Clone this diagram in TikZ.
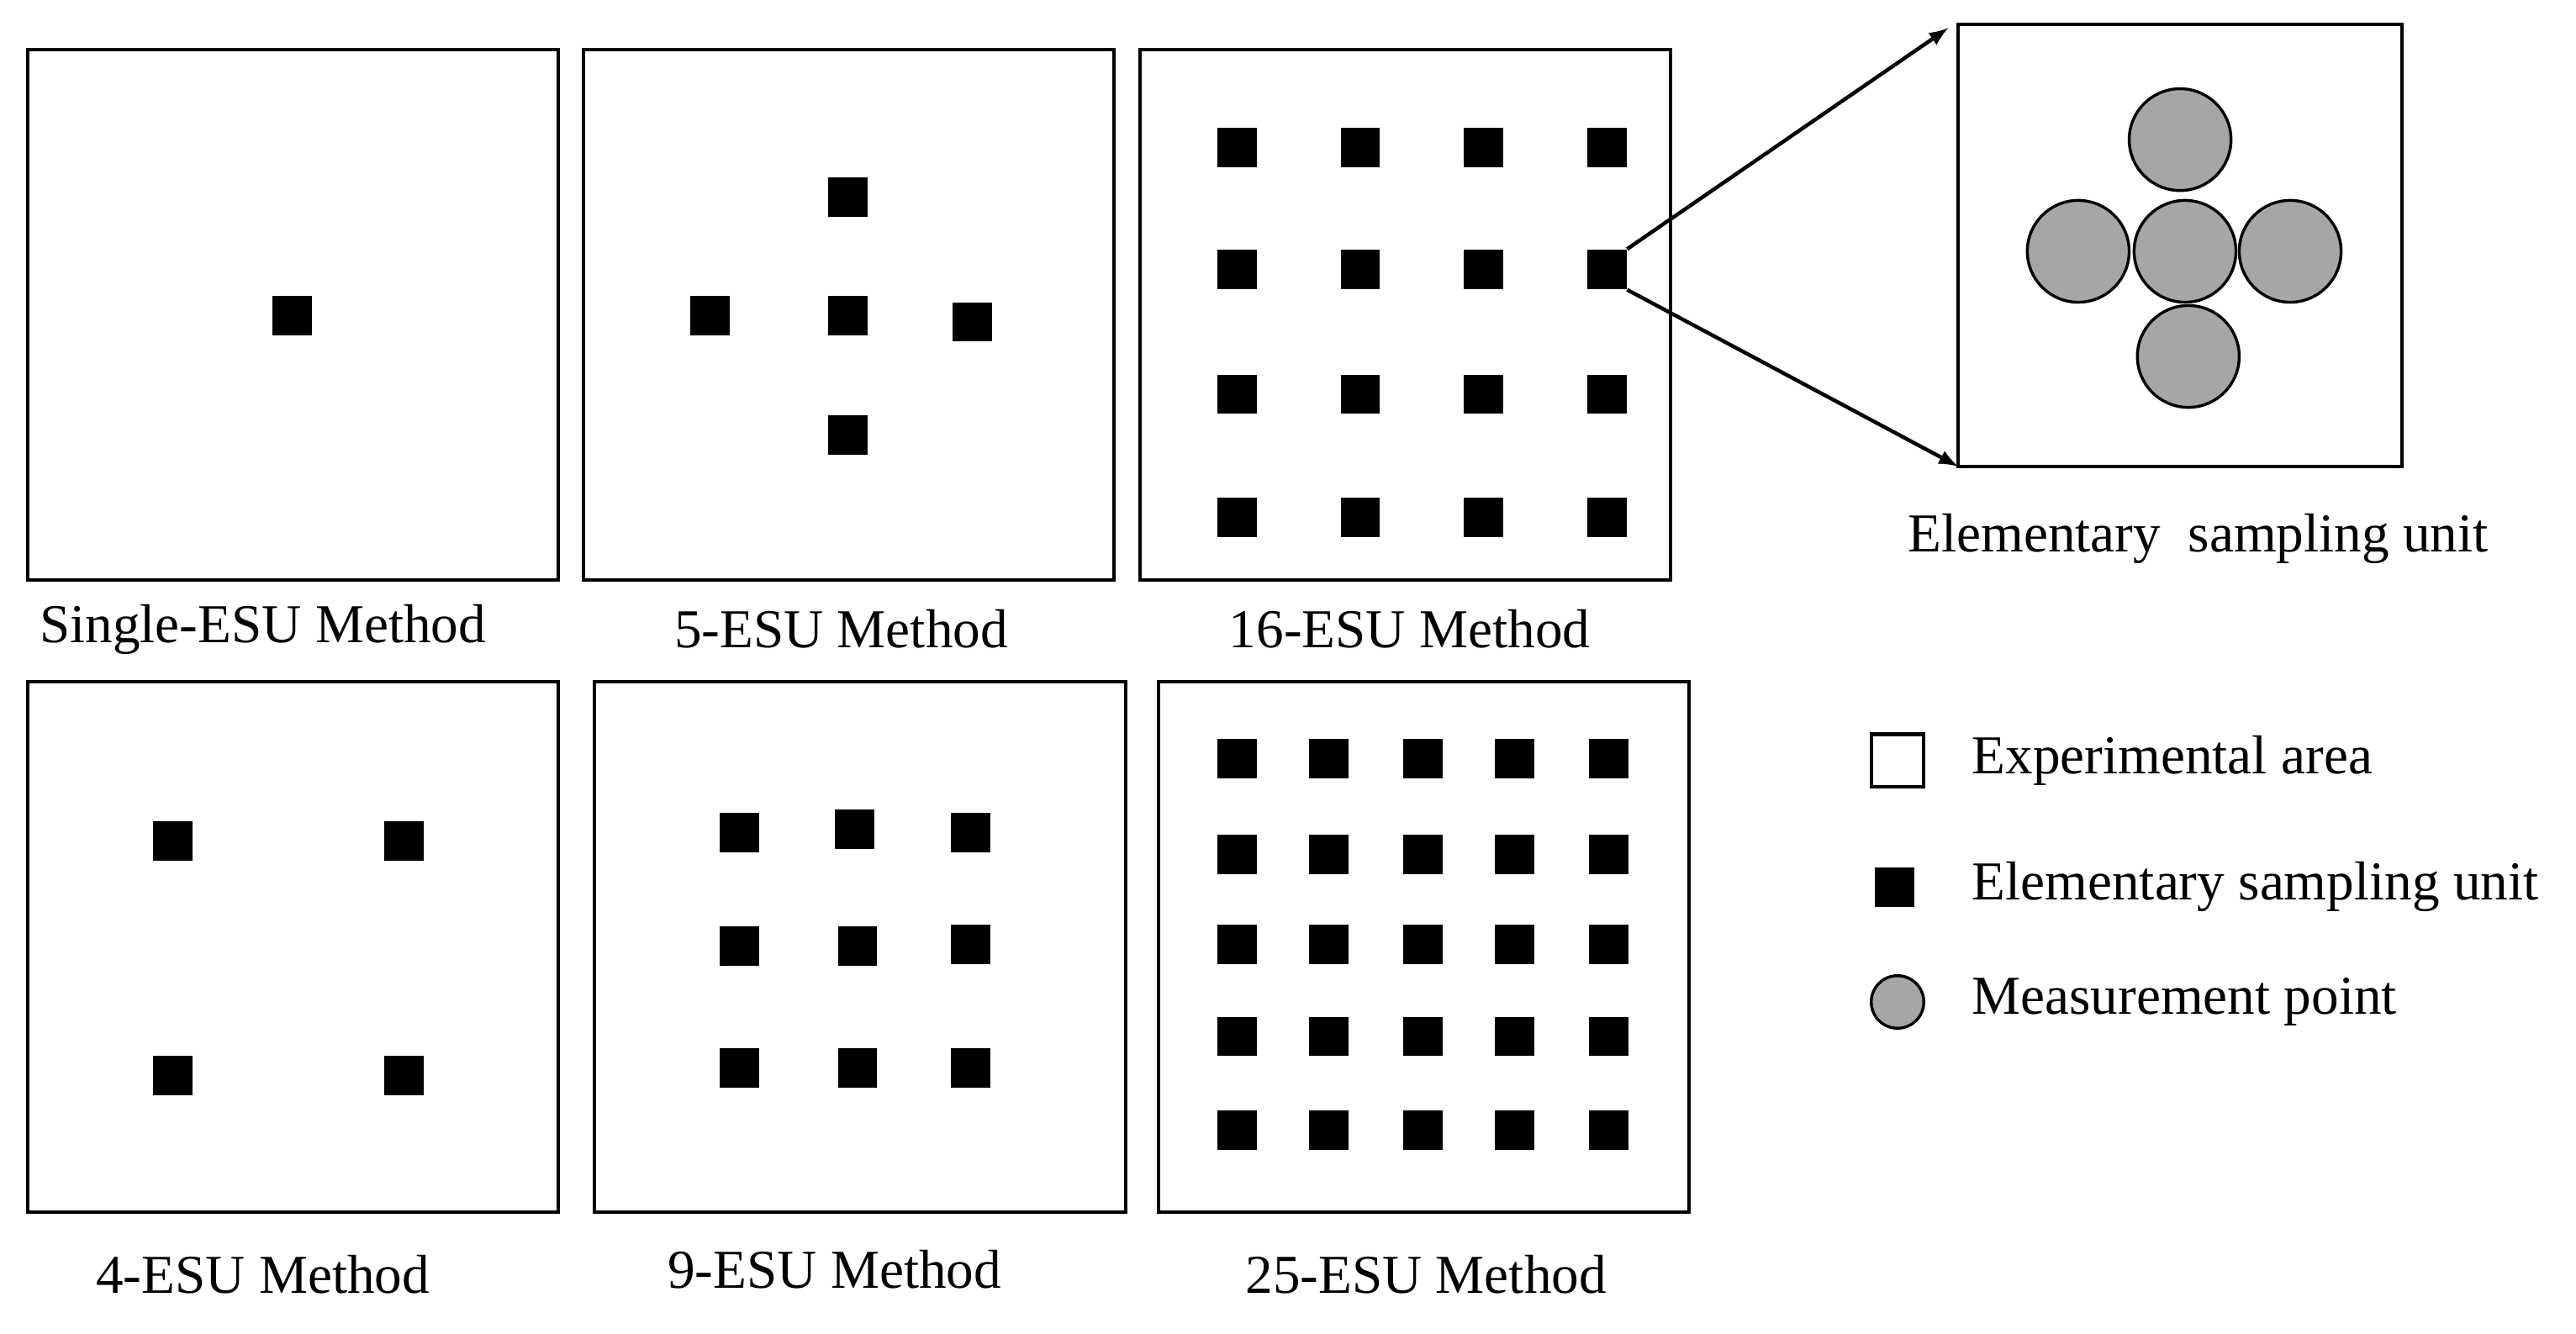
\documentclass[tikz,border=0pt]{standalone}
\usepackage{fontspec}
\setmainfont{Liberation Serif}
\begin{document}
\begin{tikzpicture}[x=0.02cm,y=-0.02cm,
  area/.style={draw=black,line width=1.2pt,fill=white},
  esu/.style={fill=black,minimum size=24*0.02cm,inner sep=0pt,draw=none},
  mp/.style={circle,draw=black,line width=1pt,fill=gray!70,minimum size=62*0.02cm,inner sep=0pt},
  lab/.style={font=\fontsize{19}{22}\selectfont,inner sep=0pt},
  arr/.style={-latex,line width=1.3pt}]
\useasboundingbox (0,0) rectangle (1568,812);
\def\A#1#2#3{\draw[area] (#1,#2) rectangle ++(323,323);}
\A{17}{30}{} \A{355}{30}{} \A{694}{30}{}
\A{17}{415}{} \A{362}{415}{} \A{705}{415}{}
\node[area,draw,minimum width=270*0.02cm,minimum height=269*0.02cm] (zoombox) at (1327,149.5) {};
% single
\node[esu] (s1) at (178,192) {};
% 5
\foreach \p [count=\i] in {(516,120),(432,192),(516,192),(592,196),(516,265)} \node[esu] (f\i) at \p {};
% 16
\foreach \x [count=\i] in {753,828,903,978} \foreach \y [count=\j] in {90,164,240,315} \node[esu] (g\i\j) at (\x,\y) {};
% 4
\foreach \p [count=\i] in {(105,512),(246,512),(105,655),(246,655)} \node[esu] (h\i) at \p {};
% 9
\foreach \p [count=\i] in {(450,507),(520,505),(591,507),(450,576),(522,576),(591,575),(450,650),(522,650),(591,650)} \node[esu] (n\i) at \p {};
% 25
\foreach \x [count=\i] in {753,809,866,922,979} \foreach \y [count=\j] in {462,520,575,631,688} \node[esu] (t\i\j) at (\x,\y) {};
% zoom circles
\foreach \p [count=\i] in {(1327,85),(1265,153),(1330,153),(1394,153),(1332,217)} \node[mp] (c\i) at \p {};
\coordinate (z1) at (1186,17);
\coordinate (z2) at (1192,284);
\draw[arr] (g42.north east) -- (z1);
\draw[arr] (g42.south east) -- (z2);
% labels
\node[lab] (l1) at (160,383) {Single-ESU Method};
\node[lab] (l2) at (512,383) {5-ESU Method};
\node[lab] (l3) at (858,383) {16-ESU Method};
\node[lab] (l4) at (1338,328) {Elementary\ \ sampling unit};
\node[lab] (l5) at (160,776) {4-ESU Method};
\node[lab] (l6) at (508,773) {9-ESU Method};
\node[lab] (l7) at (868,776) {25-ESU Method};
% legend
\node[area,draw,minimum size=32*0.02cm,inner sep=0pt] (k1) at (1155,463) {};
\node[esu] (k2) at (1153,540) {};
\node[circle,draw=black,line width=1pt,fill=gray!70,minimum size=32*0.02cm,inner sep=0pt] (k3) at (1155,610) {};
\node[lab,anchor=west] (m1) at (1200,463) {Experimental area};
\node[lab,anchor=west] (m2) at (1200,540) {Elementary sampling unit};
\node[lab,anchor=west] (m3) at (1200,610) {Measurement point};
\end{tikzpicture}
\end{document}
